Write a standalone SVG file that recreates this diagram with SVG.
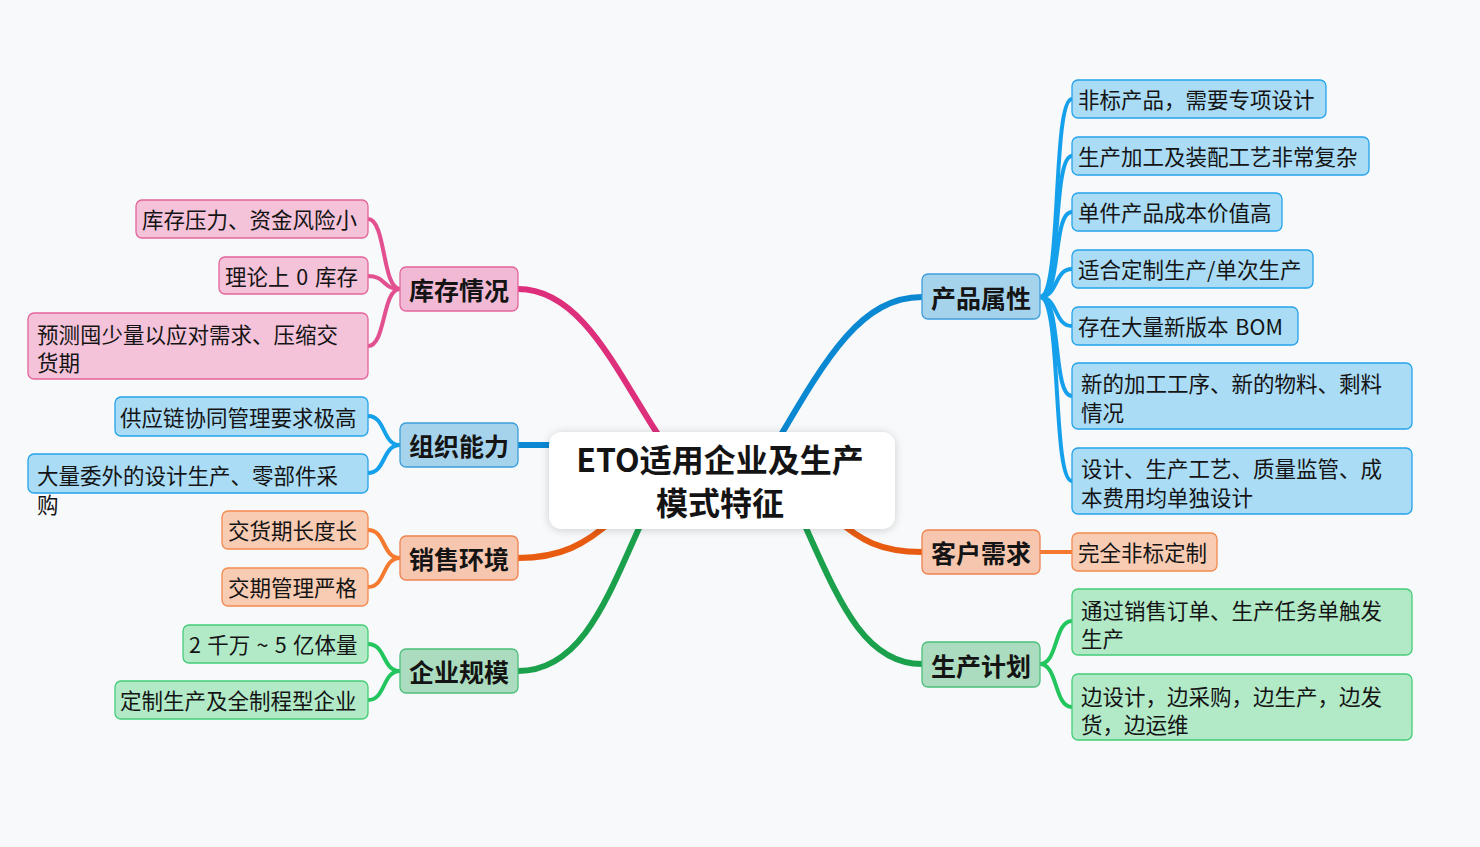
<svg xmlns="http://www.w3.org/2000/svg" width="1480" height="847" viewBox="0 0 1480 847">
<defs>
<filter id="sh" x="-20%" y="-40%" width="140%" height="180%">
<feGaussianBlur in="SourceAlpha" stdDeviation="5"/>
<feOffset dx="0" dy="1"/>
<feComponentTransfer><feFuncA type="linear" slope="0.18"/></feComponentTransfer>
<feMerge><feMergeNode/><feMergeNode in="SourceGraphic"/></feMerge>
</filter>
</defs>
<style>
text{font-family:"Noto Sans CJK SC","Noto Sans",sans-serif;fill:#141414}
.c{font-size:21.5px}
.m{font-size:25px;font-weight:700;text-anchor:middle}
.t{font-size:32px;font-weight:700;text-anchor:middle}
.l{fill:none;stroke-linecap:round}
.mw{stroke-width:6}
.cw{stroke-width:4}
.pm{fill:#f1b9d4;stroke:#e3649c;stroke-width:1.3}
.pc{fill:#f4c3da;stroke:#e3649c;stroke-width:1.3}
.bm{fill:#a6d3ec;stroke:#3c9fd9;stroke-width:1.3}
.bc{fill:#aadcf6;stroke:#25a3ea;stroke-width:1.3}
.om{fill:#f6c6ae;stroke:#ee8350;stroke-width:1.3}
.oc{fill:#f8cbb3;stroke:#f58a4f;stroke-width:1.3}
.gm{fill:#acdcbf;stroke:#4cbf7a;stroke-width:1.3}
.gc{fill:#b2eac8;stroke:#45cc76;stroke-width:1.3}
</style>
<rect x="0" y="0" width="1480" height="847" fill="#f7f9fb"/>
<g id="connectors">
<path class="l mw" stroke="#dd2f7b" d="M518,289 C585,289 620,380 665,445"/>
<path class="l mw" stroke="#0a88d2" d="M518,445 L560,445"/>
<path class="l mw" stroke="#e85c12" d="M518,558 C560,558 585,545 615,518"/>
<path class="l mw" stroke="#1ba14c" d="M518,671 C585,671 610,590 645,515"/>
<path class="l mw" stroke="#0a88d2" d="M922,297 C860,297 825,360 775,445"/>
<path class="l mw" stroke="#e85c12" d="M922,552 C880,552 860,540 835,518"/>
<path class="l mw" stroke="#1ba14c" d="M922,664 C860,664 835,590 800,515"/>
<g stroke="#e2508f">
<path class="l cw" d="M400,289 C382,289 386,219 368,219"/>
<path class="l cw" d="M400,289 C382,289 386,276 368,276"/>
<path class="l cw" d="M400,289 C382,289 386,346 368,346"/>
</g>
<g stroke="#14a0ea">
<path class="l cw" d="M400,445 C382,445 386,416 368,416"/>
<path class="l cw" d="M400,445 C382,445 386,473 368,473"/>
<path class="l cw" d="M1040,297 C1062,297 1052,99 1072,99"/>
<path class="l cw" d="M1040,297 C1062,297 1052,156 1072,156"/>
<path class="l cw" d="M1040,297 C1062,297 1052,212 1072,212"/>
<path class="l cw" d="M1040,297 C1058,297 1054,269 1072,269"/>
<path class="l cw" d="M1040,297 C1058,297 1054,326 1072,326"/>
<path class="l cw" d="M1040,297 C1062,297 1052,396 1072,396"/>
<path class="l cw" d="M1040,297 C1062,297 1052,481 1072,481"/>
</g>
<g stroke="#f5792f">
<path class="l cw" d="M400,558 C382,558 386,530 368,530"/>
<path class="l cw" d="M400,558 C382,558 386,587 368,587"/>
<path class="l cw" d="M1040,552 L1072,552"/>
</g>
<g stroke="#22c55e">
<path class="l cw" d="M400,671 C382,671 386,644 368,644"/>
<path class="l cw" d="M400,671 C382,671 386,700 368,700"/>
<path class="l cw" d="M1040,664 C1058,664 1054,621 1072,621"/>
<path class="l cw" d="M1040,664 C1058,664 1054,707 1072,707"/>
</g>
</g>
<g id="center">
<rect x="549" y="432" width="346" height="97" rx="13" fill="#ffffff" filter="url(#sh)"/>
<text class="t" x="720" y="472">ETO适用企业及生产</text>
<text class="t" x="720" y="515">模式特征</text>
</g>
<g id="n-kucun">
<rect class="pm" x="400" y="267" width="118" height="44" rx="6"/>
<text class="m" x="459" y="300">库存情况</text>
</g>
<g id="n-kucun-1">
<rect class="pc" x="136" y="200" width="232" height="38" rx="6"/>
<text class="c" x="142" y="228">库存压力、资金风险小</text>
</g>
<g id="n-kucun-2">
<rect class="pc" x="219" y="257" width="149" height="37" rx="6"/>
<text class="c" x="225" y="285" word-spacing="2">理论上 0 库存</text>
</g>
<g id="n-kucun-3">
<rect class="pc" x="28" y="313" width="340" height="66" rx="6"/>
<text class="c" x="37" y="343">预测囤少量以应对需求、压缩交</text>
<text class="c" x="37" y="371">货期</text>
</g>
<g id="n-zuzhi">
<rect class="bm" x="400" y="423" width="118" height="44" rx="6"/>
<text class="m" x="459" y="456">组织能力</text>
</g>
<g id="n-zuzhi-1">
<rect class="bc" x="115" y="397" width="253" height="39" rx="6"/>
<text class="c" x="120" y="426">供应链协同管理要求极高</text>
</g>
<g id="n-zuzhi-2">
<rect class="bc" x="28" y="454" width="340" height="39" rx="6"/>
<text class="c" x="37" y="484">大量委外的设计生产、零部件采</text>
<text class="c" x="37" y="513">购</text>
</g>
<g id="n-xiaoshou">
<rect class="om" x="400" y="536" width="118" height="44" rx="6"/>
<text class="m" x="459" y="569">销售环境</text>
</g>
<g id="n-xiaoshou-1">
<rect class="oc" x="222" y="511" width="146" height="38" rx="6"/>
<text class="c" x="228" y="539">交货期长度长</text>
</g>
<g id="n-xiaoshou-2">
<rect class="oc" x="222" y="568" width="146" height="38" rx="6"/>
<text class="c" x="228" y="596">交期管理严格</text>
</g>
<g id="n-guimo">
<rect class="gm" x="400" y="649" width="118" height="44" rx="6"/>
<text class="m" x="459" y="682">企业规模</text>
</g>
<g id="n-guimo-1">
<rect class="gc" x="183" y="625" width="185" height="38" rx="6"/>
<text class="c" x="189" y="653" word-spacing="1.5">2 千万 ~ 5 亿体量</text>
</g>
<g id="n-guimo-2">
<rect class="gc" x="115" y="681" width="253" height="38" rx="6"/>
<text class="c" x="120" y="709">定制生产及全制程型企业</text>
</g>
<g id="n-chanpin">
<rect class="bm" x="922" y="274" width="118" height="45" rx="6"/>
<text class="m" x="981" y="308">产品属性</text>
</g>
<g id="n-chanpin-1">
<rect class="bc" x="1072" y="80" width="254" height="38" rx="6"/>
<text class="c" x="1078" y="108">非标产品，需要专项设计</text>
</g>
<g id="n-chanpin-2">
<rect class="bc" x="1072" y="137" width="297" height="38" rx="6"/>
<text class="c" x="1078" y="165">生产加工及装配工艺非常复杂</text>
</g>
<g id="n-chanpin-3">
<rect class="bc" x="1072" y="193" width="210" height="38" rx="6"/>
<text class="c" x="1078" y="221">单件产品成本价值高</text>
</g>
<g id="n-chanpin-4">
<rect class="bc" x="1072" y="250" width="241" height="38" rx="6"/>
<text class="c" x="1078" y="278">适合定制生产/单次生产</text>
</g>
<g id="n-chanpin-5">
<rect class="bc" x="1072" y="307" width="226" height="38" rx="6"/>
<text class="c" x="1078" y="335" word-spacing="2">存在大量新版本 BOM</text>
</g>
<g id="n-chanpin-6">
<rect class="bc" x="1072" y="363" width="340" height="66" rx="6"/>
<text class="c" x="1081" y="392">新的加工工序、新的物料、剩料</text>
<text class="c" x="1081" y="421">情况</text>
</g>
<g id="n-chanpin-7">
<rect class="bc" x="1072" y="448" width="340" height="66" rx="6"/>
<text class="c" x="1081" y="477">设计、生产工艺、质量监管、成</text>
<text class="c" x="1081" y="506">本费用均单独设计</text>
</g>
<g id="n-kehu">
<rect class="om" x="922" y="530" width="118" height="44" rx="6"/>
<text class="m" x="981" y="563">客户需求</text>
</g>
<g id="n-kehu-1">
<rect class="oc" x="1072" y="533" width="145" height="38" rx="6"/>
<text class="c" x="1078" y="561">完全非标定制</text>
</g>
<g id="n-jihua">
<rect class="gm" x="922" y="642" width="118" height="45" rx="6"/>
<text class="m" x="981" y="676">生产计划</text>
</g>
<g id="n-jihua-1">
<rect class="gc" x="1072" y="589" width="340" height="66" rx="6"/>
<text class="c" x="1081" y="619">通过销售订单、生产任务单触发</text>
<text class="c" x="1081" y="647">生产</text>
</g>
<g id="n-jihua-2">
<rect class="gc" x="1072" y="674" width="340" height="66" rx="6"/>
<text class="c" x="1081" y="705">边设计，边采购，边生产，边发</text>
<text class="c" x="1081" y="733">货，边运维</text>
</g>
</svg>
